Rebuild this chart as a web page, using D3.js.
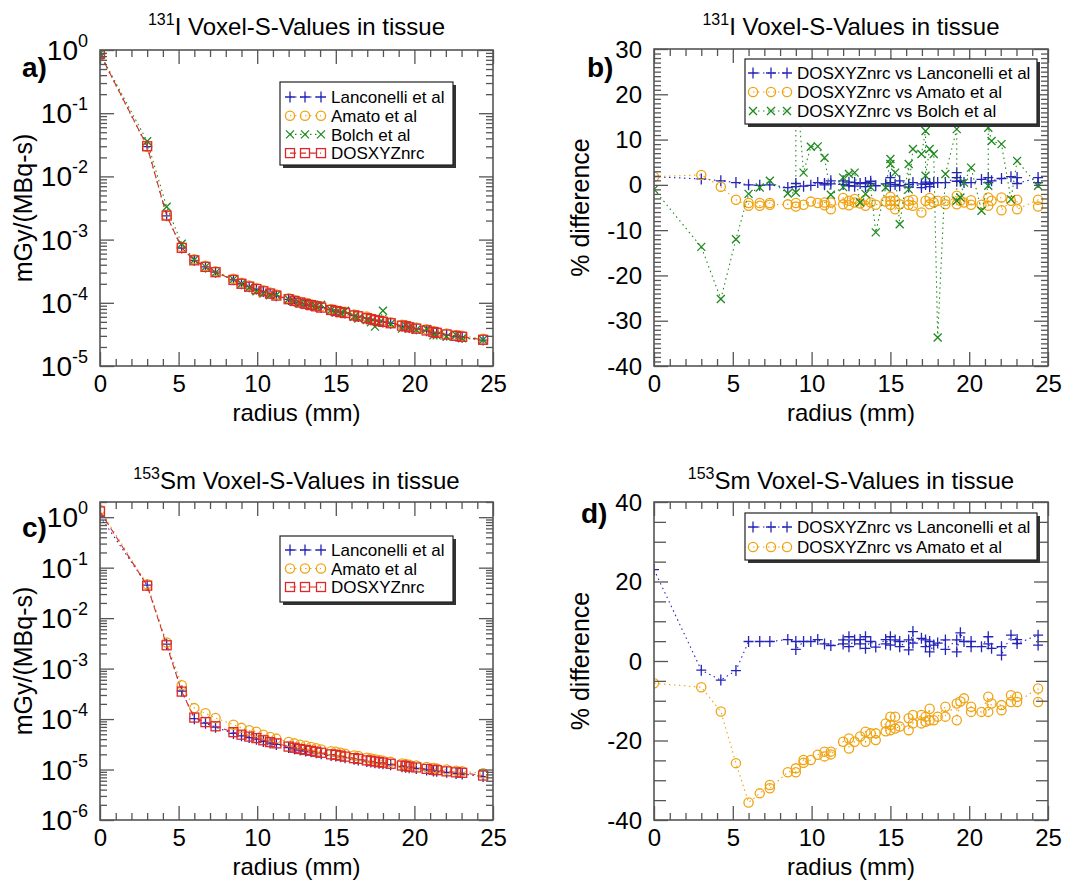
<!DOCTYPE html>
<html><head><meta charset="utf-8">
<script src="https://cdn.jsdelivr.net/npm/d3@7"></script>
<style>
body{margin:0;background:#fff}
svg{display:block}
</style>
</head><body>
<svg id="chart" width="1089" height="881"></svg>
<script>
// ---------------- DATA ----------------
const radii = [0, 3, 4.24, 5.2, 6, 6.71, 7.35, 8.49, 9, 9.49, 9.95, 10.39, 10.82, 11.22, 12, 12.37, 12.73, 13.08, 13.42, 13.75, 14.07, 14.7, 15, 15.3, 15.59, 16.16, 16.43, 16.97, 17.23, 17.49, 17.75, 18, 18.49, 19.21, 19.44, 19.67, 20.12, 20.78, 21.21, 21.42, 22.05, 22.65, 23.04, 24.37];

// 131I S-values (mGy/(MBq-s))
const iLanconelli = [0.86, 0.0296, 2.38e-3, 7.36e-4, 4.7e-4, 3.7e-4, 3.05e-4, 2.31e-4, 2.0e-4, 1.8e-4, 1.65e-4, 1.51e-4, 1.4e-4, 1.29e-4, 1.13e-4, 1.07e-4, 1.0e-4, 9.6e-5, 9.15e-5, 8.75e-5, 8.4e-5, 7.7e-5, 7.36e-5, 7.1e-5, 6.9e-5, 6.3e-5, 6.07e-5, 5.73e-5, 5.5e-5, 5.3e-5, 5.12e-5, 4.97e-5, 4.73e-5, 4.29e-5, 4.21e-5, 4.08e-5, 3.88e-5, 3.6e-5, 3.4e-5, 3.32e-5, 3.1e-5, 2.95e-5, 2.86e-5, 2.57e-5];
const iAmato = [0.85, 0.0293, 2.41e-3, 7.65e-4, 4.9e-4, 3.85e-4, 3.17e-4, 2.4e-4, 2.08e-4, 1.88e-4, 1.71e-4, 1.58e-4, 1.46e-4, 1.35e-4, 1.18e-4, 1.11e-4, 1.04e-4, 1.0e-4, 9.5e-5, 9.1e-5, 8.8e-5, 8.0e-5, 7.65e-5, 7.4e-5, 7.2e-5, 6.55e-5, 6.3e-5, 6.05e-5, 5.7e-5, 5.5e-5, 5.35e-5, 5.18e-5, 4.92e-5, 4.5e-5, 4.4e-5, 4.26e-5, 4.05e-5, 3.8e-5, 3.57e-5, 3.46e-5, 3.28e-5, 3.1e-5, 3.0e-5, 2.7e-5];
const iBolch = [0.88, 0.036, 3.3e-3, 8.6e-4, 4.8e-4, 3.7e-4, 3.0e-4, 2.35e-4, 2.0e-4, 1.75e-4, 1.52e-4, 1.4e-4, 1.32e-4, 1.33e-4, 1.14e-4, 1.05e-4, 9.8e-5, 1.0e-4, 9.4e-5, 8.8e-5, 9.3e-5, 7.7e-5, 7.0e-5, 6.9e-5, 7.5e-5, 6.0e-5, 5.65e-5, 5.35e-5, 4.9e-5, 4.2e-5, 4.8e-5, 7.5e-5, 4.65e-5, 3.9e-5, 4.35e-5, 4.1e-5, 3.75e-5, 3.85e-5, 3.05e-5, 3.05e-5, 2.9e-5, 3.1e-5, 2.75e-5, 2.6e-5];
const iDosxyz = [0.87, 0.030, 2.4e-3, 7.4e-4, 4.7e-4, 3.7e-4, 3.05e-4, 2.3e-4, 2.0e-4, 1.8e-4, 1.65e-4, 1.52e-4, 1.4e-4, 1.3e-4, 1.14e-4, 1.07e-4, 1.01e-4, 9.6e-5, 9.2e-5, 8.8e-5, 8.4e-5, 7.7e-5, 7.4e-5, 7.1e-5, 6.9e-5, 6.3e-5, 6.1e-5, 5.7e-5, 5.5e-5, 5.3e-5, 5.15e-5, 5.0e-5, 4.75e-5, 4.35e-5, 4.25e-5, 4.1e-5, 3.9e-5, 3.65e-5, 3.45e-5, 3.35e-5, 3.15e-5, 3.0e-5, 2.9e-5, 2.6e-5];

// 153Sm S-values (mGy/(MBq-s))
const smLanconelli = [1.05, 0.045, 3.05e-3, 3.6e-4, 1.02e-4, 8.3e-5, 6.9e-5, 5.2e-5, 4.65e-5, 4.3e-5, 4.0e-5, 3.6e-5, 3.35e-5, 3.15e-5, 2.72e-5, 2.57e-5, 2.43e-5, 2.33e-5, 2.24e-5, 2.14e-5, 2.06e-5, 1.9e-5, 1.86e-5, 1.79e-5, 1.72e-5, 1.6e-5, 1.55e-5, 1.45e-5, 1.41e-5, 1.37e-5, 1.33e-5, 1.3e-5, 1.24e-5, 1.14e-5, 1.11e-5, 1.09e-5, 1.05e-5, 9.8e-6, 9.4e-6, 9.2e-6, 8.8e-6, 8.3e-6, 8.15e-6, 7.25e-6];
const smAmato = [1.4, 0.047, 3.3e-3, 4.7e-4, 1.65e-4, 1.3e-4, 1.05e-4, 7.7e-5, 6.7e-5, 6.0e-5, 5.6e-5, 4.9e-5, 4.4e-5, 4.1e-5, 3.5e-5, 3.3e-5, 3.1e-5, 2.95e-5, 2.8e-5, 2.65e-5, 2.5e-5, 2.3e-5, 2.25e-5, 2.15e-5, 2.05e-5, 1.9e-5, 1.85e-5, 1.72e-5, 1.66e-5, 1.6e-5, 1.55e-5, 1.5e-5, 1.42e-5, 1.32e-5, 1.28e-5, 1.24e-5, 1.2e-5, 1.12e-5, 1.07e-5, 1.05e-5, 1.0e-5, 9.5e-6, 9.2e-6, 8.4e-6];
const smDosxyz = [1.3, 0.044, 2.9e-3, 3.5e-4, 1.07e-4, 8.7e-5, 7.2e-5, 5.5e-5, 4.9e-5, 4.5e-5, 4.2e-5, 3.8e-5, 3.5e-5, 3.3e-5, 2.85e-5, 2.7e-5, 2.55e-5, 2.45e-5, 2.35e-5, 2.25e-5, 2.15e-5, 2.0e-5, 1.95e-5, 1.88e-5, 1.8e-5, 1.68e-5, 1.63e-5, 1.52e-5, 1.48e-5, 1.44e-5, 1.4e-5, 1.37e-5, 1.3e-5, 1.2e-5, 1.17e-5, 1.14e-5, 1.1e-5, 1.03e-5, 9.9e-6, 9.7e-6, 9.2e-6, 8.8e-6, 8.6e-6, 7.6e-6];

// 131I % differences [radius, %]
const iDiffLanconelli = [[0,1.8],[3,1.3],[4.24,0.9],[5.2,0.5],[6,0.0],[6.71,-0.1],[7.35,0.0],[8.49,-0.6],[9,-0.4],[9,0.3],[9.49,-0.3],[9.95,-0.1],[10.39,0.5],[10.82,0.0],[10.82,0.3],[11.22,0.9],[11.22,0.2],[12,0.9],[12,0.1],[12.37,-0.2],[12.37,0.6],[12.73,0.5],[12.73,-0.3],[13.08,0.3],[13.42,0.5],[13.42,-0.4],[13.75,0.3],[13.75,0.8],[14.07,-0.2],[14.7,0.2],[15,0.5],[15,1.6],[15,-0.3],[15.3,0.1],[15.59,-0.2],[15.59,0.9],[16.16,0.1],[16.16,-0.5],[16.43,0.5],[16.97,-0.6],[16.97,0.2],[17.23,0.1],[17.23,0.6],[17.49,0.3],[17.49,-0.4],[17.75,0.5],[18,0.5],[18.49,0.5],[19.21,1.6],[19.21,2.7],[19.21,0.8],[19.44,0.9],[19.67,0.5],[20.12,0.5],[20.78,1.2],[21.21,1.6],[21.21,0.5],[21.42,0.9],[22.05,1.4],[22.65,1.8],[23.04,1.6],[23.04,0.3],[24.37,1.6],[24.37,0.5]];
const iDiffAmato = [[0,1.8],[3,2.2],[4.24,-0.4],[5.2,-3.3],[6,-4.6],[6,-4.0],[6.71,-4.0],[6.71,-4.6],[7.35,-4.0],[7.35,-4.4],[8.49,-4.3],[9,-4.0],[9,-4.8],[9.49,-4.4],[9.95,-3.7],[10.39,-4.0],[10.82,-4.5],[10.82,-3.9],[11.22,-3.9],[11.22,-5.4],[12,-2.9],[12,-4.3],[12.37,-3.5],[12.37,-4.5],[12.73,-3.1],[12.73,-3.9],[13.08,-4.1],[13.42,-3.3],[13.42,-4.6],[13.75,-3.9],[14.07,-4.4],[14.7,-3.7],[15,-2.6],[15,-3.5],[15,-4.4],[15.3,-3.5],[15.3,-5.4],[15.59,-4.3],[16.16,-3.5],[16.16,-4.4],[16.43,-3.3],[16.43,-4.6],[16.97,-6.1],[17.23,-3.5],[17.49,-2.9],[17.49,-4.3],[17.75,-3.9],[18,-3.5],[18.49,-3.5],[18.49,-4.3],[19.21,-2.4],[19.21,-4.3],[19.44,-3.5],[19.67,-3.9],[20.12,-3.4],[20.12,-4.4],[20.78,-4.4],[21.21,-2.8],[21.21,-4.6],[21.42,-3.5],[22.05,-2.8],[22.05,-5.6],[22.65,-3.5],[23.04,-3.3],[23.04,-5.4],[24.37,-3.3],[24.37,-4.8]];
const iDiffBolch = [[0,-1.0],[3,-13.7],[4.24,-25.2],[5.2,-12.0],[6,-2.0],[6.71,-0.6],[7.35,0.9],[8.49,-1.9],[9,-1.7],[9,24],[9.49,2.7],[9.95,8.4],[10.39,8.5],[10.82,6.0],[11.22,-2.2],[12,-0.5],[12,1.6],[12.37,2.4],[12.73,2.7],[13.08,-3.9],[13.42,-2.0],[13.75,-0.5],[14.07,-10.5],[14.7,-0.6],[15,5.7],[15,4.6],[15.3,2.7],[15.59,-8.7],[16.16,4.6],[16.16,-1.0],[16.43,7.9],[16.97,6.8],[17.23,11.9],[17.23,2.0],[17.49,7.9],[17.75,6.8],[18,-33.7],[18.49,2.4],[19.21,12.3],[19.21,20],[19.21,-3.5],[19.44,-2.8],[19.67,0.5],[20.12,3.8],[20.78,-5.7],[21.21,-0.2],[21.21,22],[21.21,12.6],[21.42,9.7],[22.05,9.0],[22.65,-3.2],[23.04,5.3],[24.37,-0.2]];

// 153Sm % differences [radius, %]
const smDiffLanconelli = [[0,23],[3,-2.3],[4.24,-4.8],[5.2,-2.4],[6,4.9],[6.71,4.9],[7.35,4.9],[8.49,5.4],[9,4.9],[9,2.9],[9.49,4.9],[9.95,4.9],[10.39,5.4],[10.82,4.3],[11.22,3.9],[12,4.3],[12,5.3],[12.37,6.1],[12.37,3.6],[12.73,5.3],[13.08,5.4],[13.08,4.3],[13.42,6.1],[13.42,3.2],[13.75,4.9],[14.07,3.5],[14.7,5.4],[14.7,4.3],[15,6.1],[15,4.0],[15.3,5.3],[15.59,4.9],[15.59,3.6],[16.16,5.3],[16.16,2.8],[16.43,7.4],[16.43,4.5],[16.97,5.7],[17.23,5.3],[17.23,3.6],[17.49,4.9],[17.49,2.3],[17.75,4.0],[18,4.5],[18.49,5.3],[18.49,2.9],[19.21,5.3],[19.21,2.3],[19.44,7.1],[19.67,4.9],[20.12,4.9],[20.12,3.6],[20.78,3.6],[21.21,6.1],[21.21,4.3],[21.42,3.2],[22.05,3.6],[22.05,1.5],[22.65,6.5],[23.04,5.4],[23.04,4.4],[24.37,6.5],[24.37,4.0]];
const smDiffAmato = [[0,-5.6],[3,-6.6],[4.24,-12.7],[5.2,-25.7],[6,-35.6],[6.71,-33.3],[7.35,-31.2],[7.35,-32.0],[8.49,-28.0],[9,-27.0],[9,-28.0],[9.49,-24.9],[9.49,-25.6],[9.95,-24.9],[10.39,-23.6],[10.82,-22.8],[10.82,-24.0],[11.22,-22.8],[11.22,-23.5],[12,-20.3],[12.37,-19.5],[12.37,-22.0],[12.73,-20.3],[13.08,-19.0],[13.42,-17.8],[13.42,-20.3],[13.75,-18.2],[14.07,-18.2],[14.07,-19.9],[14.7,-15.7],[14.7,-17.7],[15,-16.1],[15,-17.4],[15,-14.0],[15.3,-14.0],[15.3,-17.0],[15.59,-16.5],[16.16,-14.4],[16.16,-17.4],[16.43,-13.6],[16.43,-15.7],[16.97,-13.6],[16.97,-15.7],[17.23,-14.0],[17.23,-15.3],[17.49,-12.0],[17.49,-14.9],[17.75,-14.9],[18,-14.0],[18.49,-11.5],[18.49,-14.0],[19.21,-10.7],[19.21,-14.9],[19.44,-10.2],[19.67,-9.4],[20.12,-11.5],[20.12,-12.8],[20.78,-12.8],[21.21,-9.0],[21.21,-12.8],[21.42,-10.7],[22.05,-11.1],[22.05,-12.4],[22.65,-8.6],[22.65,-10.3],[23.04,-9.0],[23.04,-10.3],[24.37,-6.9],[24.37,-10.3]];

const legendA = ["Lanconelli et al", "Amato et al", "Bolch et al", "DOSXYZnrc"];
const legendB = ["DOSXYZnrc vs Lanconelli et al", "DOSXYZnrc vs Amato et al", "DOSXYZnrc vs Bolch et al"];
const legendC = ["Lanconelli et al", "Amato et al", "DOSXYZnrc"];
const legendD = ["DOSXYZnrc vs Lanconelli et al", "DOSXYZnrc vs Amato et al"];
const titleIso = ["131", "153"];
const titleElem = ["I", "Sm"];

// ---------------- STYLE ----------------
const FONT = '"Liberation Sans", Arial, Helvetica, sans-serif';
const STY = {
  lan:  {color:'#2424b8', marker:'plus',   dash:'1.5,3.5'},
  ama:  {color:'#f0a312', marker:'circle', dash:'1.5,3.5'},
  bol:  {color:'#1e8a1e', marker:'cross',  dash:'1.5,3.5'},
  dos:  {color:'#e02828', marker:'square', dash:'6,4'}
};
const FRAME = '#555';

const svg = d3.select('#chart');
svg.append('rect').attr('width',1089).attr('height',881).attr('fill','#fff');

function marker(g, type, cx, cy, color) {
  const common = s => s.attr('fill','none').attr('stroke',color).attr('stroke-width',1.3);
  if (type==='plus') common(g.append('path').attr('d',`M${cx-5},${cy}H${cx+5}M${cx},${cy-5.5}V${cy+5.5}`));
  else if (type==='cross') common(g.append('path').attr('d',`M${cx-4},${cy-4}L${cx+4},${cy+4}M${cx-4},${cy+4}L${cx+4},${cy-4}`));
  else if (type==='circle') common(g.append('circle').attr('cx',cx).attr('cy',cy).attr('r',4.6));
  else if (type==='square') common(g.append('rect').attr('x',cx-4.5).attr('y',cy-4.5).attr('width',9).attr('height',9));
}

let clipId = 0;
function panel(cfg) {
  const g = svg.append('g');
  const x = d3.scaleLinear().domain([0,25]).range([cfg.x0,cfg.x1]);
  const y = cfg.log ? d3.scaleLog().domain(cfg.ydom).range([cfg.y1,cfg.y0])
                    : d3.scaleLinear().domain(cfg.ydom).range([cfg.y1,cfg.y0]);
  const id = 'clip'+(clipId++);
  g.append('clipPath').attr('id',id).append('rect')
    .attr('x',cfg.x0).attr('y',cfg.y0).attr('width',cfg.x1-cfg.x0).attr('height',cfg.y1-cfg.y0);

  // data
  const dg = g.append('g').attr('clip-path',`url(#${id})`);
  const line = d3.line().x(d=>x(d[0])).y(d=>y(d[1]));
  cfg.series.forEach(s => {
    dg.append('path').attr('d',line(s.pts)).attr('fill','none')
      .attr('stroke',s.sty.color).attr('stroke-width',1.1).attr('stroke-dasharray',s.sty.dash);
    s.pts.forEach(d => marker(dg, s.sty.marker, x(d[0]), y(d[1]), s.sty.color));
  });

  // frame
  g.append('rect').attr('x',cfg.x0).attr('y',cfg.y0).attr('width',cfg.x1-cfg.x0).attr('height',cfg.y1-cfg.y0)
    .attr('fill','none').attr('stroke',FRAME).attr('stroke-width',1.6);

  const styleAxis = (sel, fs) => {
    sel.select('.domain').remove();
    sel.selectAll('.tick line').attr('stroke',FRAME).attr('stroke-width',1.3);
    sel.selectAll('.tick text').attr('fill','#000').attr('font-family',FONT).attr('font-size',fs);
  };

  // x axes
  const xMajor = x.ticks(5), xMinor = x.ticks(25).filter(v => v%5!==0);
  g.append('g').attr('transform',`translate(0,${cfg.y1})`)
    .call(d3.axisBottom(x).tickValues(xMajor).tickSize(-14).tickPadding(9).tickFormat(d=>String(d)))
    .call(s=>styleAxis(s,24));
  g.append('g').attr('transform',`translate(0,${cfg.y1})`)
    .call(d3.axisBottom(x).tickValues(xMinor).tickSize(-7).tickFormat('')).call(s=>styleAxis(s,10));
  g.append('g').attr('transform',`translate(0,${cfg.y0})`)
    .call(d3.axisTop(x).tickValues(xMajor).tickSize(-14).tickFormat('')).call(s=>styleAxis(s,10));
  g.append('g').attr('transform',`translate(0,${cfg.y0})`)
    .call(d3.axisTop(x).tickValues(xMinor).tickSize(-7).tickFormat('')).call(s=>styleAxis(s,10));

  // y axes
  let yMajor, yMinor, yMinorLen = 7;
  if (cfg.log) {
    const all = y.ticks();
    yMajor = all.filter(v => Math.abs(Math.log10(v) - Math.round(Math.log10(v))) < 1e-9);
    yMinor = all.filter(v => !yMajor.includes(v));
  } else {
    yMajor = y.ticks(cfg.majorCount);
    yMinor = y.ticks(cfg.minorCount).filter(v => !yMajor.includes(v));
    yMinorLen = cfg.minorLen || 7;
  }
  const yLab = cfg.yLabelTicks || yMajor;
  [[d3.axisLeft, cfg.x0],[d3.axisRight, cfg.x1]].forEach(([ax, px]) => {
    g.append('g').attr('transform',`translate(${px},0)`)
      .call(ax(y).tickValues(yMajor).tickSize(-14).tickFormat('')).call(s=>styleAxis(s,10));
    g.append('g').attr('transform',`translate(${px},0)`)
      .call(ax(y).tickValues(yMinor).tickSize(-yMinorLen).tickFormat('')).call(s=>styleAxis(s,10));
  });
  // y labels
  const lab = g.append('g').attr('font-family',FONT).attr('fill','#000');
  yLab.forEach(v => {
    const t = lab.append('text').attr('x',cfg.x0-12).attr('y',y(v)).attr('text-anchor','end');
    if (cfg.log) {
      t.append('tspan').attr('font-size',28).attr('dy','0.36em').text('10');
      t.append('tspan').attr('font-size',18).attr('dy',-13).text(String(Math.round(Math.log10(v))));
    } else {
      t.attr('font-size',24).attr('dy','0.36em').text(String(v));
    }
  });

  // axis titles
  const cx = (cfg.x0+cfg.x1)/2, cy = (cfg.y0+cfg.y1)/2;
  g.append('text').attr('x',cx).attr('y',cfg.xLabelY).attr('text-anchor','middle')
    .attr('font-family',FONT).attr('font-size',24).text('radius (mm)');
  g.append('text').attr('transform',`translate(${cfg.yLabelX},${cy}) rotate(-90)`).attr('text-anchor','middle')
    .attr('font-family',FONT).attr('font-size',25).text(cfg.yLabel);

  // title
  const tt = g.append('text').attr('x',cx).attr('y',cfg.titleY).attr('text-anchor','middle').attr('font-family',FONT);
  tt.append('tspan').attr('font-size',16).attr('dy',-10).text(cfg.iso);
  tt.append('tspan').attr('font-size',24).attr('dy',10).text(cfg.elem + ' Voxel-S-Values in tissue');

  // panel letter
  g.append('text').attr('x',cfg.letterX).attr('y',cfg.letterY).attr('font-family',FONT)
    .attr('font-weight','bold').attr('font-size',28).text(cfg.letter);

  // legend
  const L = cfg.legend;
  const lg = g.append('g');
  lg.append('rect').attr('x',L.x+3).attr('y',L.y+3).attr('width',L.w).attr('height',L.h).attr('fill','#333');
  lg.append('rect').attr('x',L.x).attr('y',L.y).attr('width',L.w).attr('height',L.h)
    .attr('fill','#fff').attr('stroke','#222').attr('stroke-width',1.2);
  cfg.series.forEach((s,i) => {
    const ry = L.y + L.first + i*L.step;
    const mx = L.mx.map(o => L.x + o);
    lg.append('line').attr('x1',mx[0]).attr('x2',mx[2]).attr('y1',ry).attr('y2',ry)
      .attr('stroke',s.sty.color).attr('stroke-width',1.1).attr('stroke-dasharray',s.sty.dash);
    mx.forEach(m => marker(lg, s.sty.marker, m, ry, s.sty.color));
    lg.append('text').attr('x',L.x+L.tx).attr('y',ry).attr('dy','0.36em')
      .attr('font-family',FONT).attr('font-size',17).text(s.name);
  });
}

const zipR = vals => d3.zip(radii, vals);

panel({
  x0:100, x1:493, y0:50, y1:366, log:true, ydom:[1e-5,1],
  yLabel:'mGy/(MBq-s)', yLabelX:32, xLabelY:421, titleY:35, iso:titleIso[0], elem:titleElem[0],
  letter:'a)', letterX:22, letterY:77,
  series:[
    {name:legendA[0], sty:STY.lan, pts:zipR(iLanconelli)},
    {name:legendA[1], sty:STY.ama, pts:zipR(iAmato)},
    {name:legendA[2], sty:STY.bol, pts:zipR(iBolch)},
    {name:legendA[3], sty:STY.dos, pts:zipR(iDosxyz)}
  ],
  legend:{x:280, y:82, w:173, h:83, first:15, step:18.7, mx:[10,25,41], tx:51}
});

panel({
  x0:654, x1:1048, y0:49, y1:366, log:false, ydom:[-40,30], majorCount:7, minorCount:70, minorLen:7,
  yLabel:'% difference', yLabelX:589, xLabelY:421, titleY:35, iso:titleIso[0], elem:titleElem[0],
  letter:'b)', letterX:587, letterY:77,
  series:[
    {name:legendB[0], sty:STY.lan, pts:iDiffLanconelli},
    {name:legendB[1], sty:STY.ama, pts:iDiffAmato},
    {name:legendB[2], sty:STY.bol, pts:iDiffBolch}
  ],
  legend:{x:745, y:59, w:292, h:65, first:14, step:19, mx:[8,26,42], tx:52}
});

panel({
  x0:100, x1:493, y0:502, y1:820, log:true, ydom:[1e-6,2],
  yLabel:'mGy/(MBq-s)', yLabelX:32, xLabelY:875, titleY:489, iso:titleIso[1], elem:titleElem[1],
  letter:'c)', letterX:22, letterY:537,
  series:[
    {name:legendC[0], sty:STY.lan, pts:zipR(smLanconelli)},
    {name:legendC[1], sty:STY.ama, pts:zipR(smAmato)},
    {name:legendC[2], sty:STY.dos, pts:zipR(smDosxyz)}
  ],
  legend:{x:280, y:536, w:173, h:66, first:14, step:18.5, mx:[10,25,41], tx:51}
});

panel({
  x0:654, x1:1048, y0:502, y1:820, log:false, ydom:[-40,40], majorCount:4, minorCount:16, minorLen:12,
  yLabel:'% difference', yLabelX:589, xLabelY:875, titleY:489, iso:titleIso[1], elem:titleElem[1],
  letter:'d)', letterX:581, letterY:523,
  series:[
    {name:legendD[0], sty:STY.lan, pts:smDiffLanconelli},
    {name:legendD[1], sty:STY.ama, pts:smDiffAmato}
  ],
  legend:{x:745, y:513, w:292, h:47, first:14, step:20, mx:[8,26,42], tx:52}
});
</script>
</body></html>
